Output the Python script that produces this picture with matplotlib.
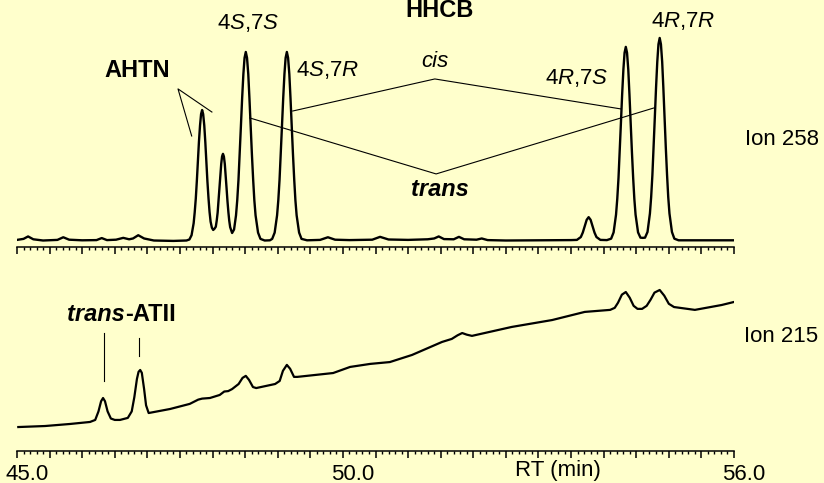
import matplotlib
matplotlib.use("Agg")
import matplotlib.pyplot as plt
from matplotlib.ticker import MultipleLocator, FuncFormatter
from matplotlib.transforms import ScaledTranslation

plt.rcParams["font.family"] = ["Liberation Sans", "DejaVu Sans"]
plt.rcParams["mathtext.fontset"] = "custom"
plt.rcParams["mathtext.rm"] = "Liberation Sans"
plt.rcParams["mathtext.it"] = "Liberation Sans:italic"
plt.rcParams["mathtext.bf"] = "Liberation Sans:bold"

BG = "#FFFFCC"

# ion 258 trace: retention time (min) and relative intensity
rt_258 = [45.00, 45.10, 45.17, 45.25, 45.40, 45.62, 45.71, 45.80, 46.00, 46.22,
          46.30, 46.38, 46.52, 46.63, 46.72, 46.78, 46.86, 46.95, 47.10, 47.40,
          47.60,
          # AHTN
          47.645, 47.678, 47.71, 47.726, 47.743, 47.759, 47.775, 47.791, 47.808, 47.824,
          47.84, 47.856, 47.873, 47.889, 47.905, 47.921, 47.938, 47.954, 47.97, 47.99,
          48.01, 48.03, 48.05, 48.064, 48.078, 48.091, 48.105, 48.119, 48.133, 48.146,
          48.16, 48.174, 48.188, 48.201, 48.215, 48.229, 48.243, 48.256, 48.27, 48.30,
          # HHCB 4S,7S
          48.33, 48.36, 48.379, 48.398, 48.416, 48.435, 48.454, 48.473, 48.491,
          48.51, 48.529, 48.548, 48.566, 48.585, 48.604, 48.623, 48.641, 48.66, 48.698,
          48.735, 48.80, 48.88,
          # HHCB 4S,7R
          48.915, 48.953, 48.99, 49.009, 49.028, 49.046, 49.065, 49.084, 49.103, 49.121,
          49.14, 49.159, 49.178, 49.196, 49.215, 49.234, 49.253, 49.271, 49.29, 49.328,
          49.365, 49.45,
          49.65, 49.77, 49.88, 50.10, 50.45, 50.57, 50.70, 51.00, 51.30, 51.40,
          51.47, 51.55, 51.70, 51.78, 51.86, 52.05, 52.13, 52.22, 52.50, 53.00,
          53.50, 53.59, 53.65, 53.68, 53.71, 53.74, 53.77, 53.80, 53.83, 53.86,
          53.89, 53.95, 54.05,
          # HHCB 4R,7S
          54.115, 54.153, 54.19, 54.209, 54.228, 54.246, 54.265, 54.284, 54.303, 54.321,
          54.34, 54.359, 54.378, 54.396, 54.415, 54.434, 54.453, 54.471, 54.49, 54.528,
          54.565, 54.60,
          # HHCB 4R,7R
          54.635, 54.673, 54.71, 54.729, 54.748, 54.766, 54.785, 54.804, 54.823, 54.841,
          54.86, 54.879, 54.898, 54.916, 54.935, 54.954, 54.973, 54.991, 55.01, 55.048,
          55.085, 55.15, 55.50, 56.00]
int_258 = [0.5, 1.0, 2.2, 0.8, 0.2, 0.5, 1.8, 0.6, 0.3, 0.4,
           1.4, 0.4, 0.6, 1.5, 0.8, 1.2, 2.8, 1.2, 0.2, 0.0,
           0.2,
           0.7, 2.8, 8.7, 14.0, 20.9, 29.5, 39.1, 48.7, 56.9, 62.5,
           64.5, 62.5, 56.9, 48.7, 39.1, 29.5, 21.0, 14.3, 9.5, 6.5,
           5.4, 6.0, 7.0, 10.0, 13.9, 19.6, 26.0, 32.4, 37.9, 41.6,
           42.9, 41.6, 37.9, 32.4, 26.0, 19.6, 14.2, 10.0, 6.8, 3.9,
           5.6, 12.6, 20.1, 30.2, 42.6, 56.5, 70.3, 82.2, 90.2,
           93.1, 90.2, 82.2, 70.3, 56.5, 42.6, 30.2, 20.1, 12.6, 4.1,
           1.0, 0.2, 0.3,
           1.0, 4.1, 12.6, 20.1, 30.2, 42.6, 56.5, 70.3, 82.2, 90.2,
           93.1, 90.2, 82.2, 70.3, 56.5, 42.6, 30.2, 20.1, 12.6, 4.1,
           1.0, 0.3,
           0.5, 1.8, 0.6, 0.4, 0.6, 2.0, 0.7, 0.5, 0.8, 1.2,
           2.2, 0.9, 0.8, 2.0, 0.8, 0.6, 1.2, 0.4, 0.2, 0.3,
           0.4, 0.5, 1.9, 4.1, 7.3, 10.4, 11.7, 10.4, 7.3, 4.1,
           1.9, 0.5, 0.4,
           1.1, 4.2, 12.9, 20.7, 31.0, 43.8, 58.0, 72.2, 84.4, 92.7,
           95.6, 92.7, 84.4, 72.2, 58.0, 43.8, 31.0, 20.7, 12.9, 4.2,
           1.6, 1.5,
           1.6, 4.4, 13.5, 21.6, 32.5, 45.8, 60.7, 75.5, 88.3, 96.9,
           100.0, 96.9, 88.3, 75.5, 60.7, 45.8, 32.5, 21.6, 13.5, 4.4,
           1.1, 0.3, 0.3, 0.3]

# ion 215 trace
rt_215 = [45.02, 45.43, 45.81, 46.12, 46.20, 46.25, 46.29, 46.32, 46.35, 46.39,
          46.44, 46.50, 46.58, 46.70, 46.76, 46.80, 46.84, 46.865, 46.89, 46.915,
          46.95, 46.98, 47.02, 47.35, 47.65, 47.78, 47.84, 47.96, 48.11, 48.18,
          48.24, 48.30, 48.40, 48.46, 48.51, 48.56, 48.62, 48.67, 48.96, 49.03,
          49.08, 49.14, 49.19, 49.25, 49.30, 49.85, 50.11, 50.42, 50.72, 51.06,
          51.52, 51.67, 51.76, 51.83, 51.90, 51.98, 52.59, 53.21, 53.71, 54.10,
          54.17, 54.22, 54.28, 54.34, 54.40, 54.46, 54.52, 54.59, 54.66, 54.72,
          54.78, 54.86, 54.93, 55.00, 55.08, 55.40, 55.81, 56.00]
int_215 = [11.3, 11.8, 12.8, 13.8, 14.8, 19.0, 24.0, 25.6, 24.0, 19.0,
           15.5, 14.8, 14.8, 15.8, 19.0, 26.0, 35.0, 38.5, 39.4, 38.0,
           30.0, 22.0, 18.2, 20.2, 22.7, 24.8, 25.3, 25.6, 27.1, 28.8,
           29.0, 30.0, 32.5, 35.5, 36.5, 34.5, 31.0, 30.5, 32.5, 34.0,
           39.0, 41.9, 40.0, 36.0, 36.0, 37.9, 40.9, 42.4, 43.3, 46.8,
           53.2, 54.7, 56.5, 57.6, 56.8, 56.2, 60.6, 64.0, 68.0, 69.0,
           70.0, 72.5, 76.5, 77.8, 75.0, 71.0, 69.5, 69.5, 71.0, 74.0,
           77.5, 78.8, 76.0, 72.0, 70.4, 69.0, 71.4, 72.9]

tick_rt = [45.0, 50.0, 56.0]
tick_labels = ["45.0", "50.0", "56.0"]


def style_axis(axes, show_labels):
    """only the bottom time axis with ticks pointing down"""
    axes.set_facecolor("none")
    for side in ["left", "right", "top"]:
        axes.spines[side].set_visible(False)
    axes.spines["bottom"].set_linewidth(1.1)
    axes.set_yticks([])
    axes.set_xlim(45.0, 56.0)
    axes.xaxis.set_major_locator(MultipleLocator(0.5))
    axes.xaxis.set_minor_locator(MultipleLocator(0.1))
    axes.tick_params(axis="x", which="major", direction="out", length=5, width=1.1)
    axes.tick_params(axis="x", which="minor", direction="out", length=2.5, width=1.0)
    names = dict(zip([round(v, 1) for v in tick_rt], tick_labels))
    if show_labels:
        axes.xaxis.set_major_formatter(
            FuncFormatter(lambda v, _: names.get(round(v, 1), "")))
        axes.tick_params(axis="x", labelsize=16, pad=4)
        shift = ScaledTranslation(0.10, 0, axes.figure.dpi_scale_trans)
        for lab in axes.get_xticklabels():
            lab.set_transform(lab.get_transform() + shift)
    else:
        axes.tick_params(axis="x", labelbottom=False)


fig = plt.figure(figsize=(8.24, 4.83), dpi=100, facecolor=BG)
ax_top = fig.add_axes([17 / 824, 236 / 483, 717 / 824, 247 / 483])
ax_bot = fig.add_axes([17 / 824, 32 / 483, 717 / 824, 200 / 483])

ax_top.plot(rt_258, int_258, color="black", lw=1.7)
ax_top.set_ylim(-3.0, 118.7)
style_axis(ax_top, False)

ax_bot.plot(rt_215, int_215, color="black", lw=1.6)
ax_bot.set_ylim(-0.5, 98.0)
style_axis(ax_bot, True)

# annotations on ion 258
line_kw = dict(color="black", lw=0.8)
ax_top.plot([47.68, 47.47, 47.99], [51.7, 74.9, 63.5], **line_kw)
ax_top.plot([49.23, 51.41, 54.27], [64.0, 79.8, 65.0], **line_kw)
ax_top.plot([48.57, 51.43, 54.77], [60.6, 33.0, 65.5], **line_kw)

txt = dict(ha="center", va="center", fontsize=16)
bold = dict(ha="center", va="center", fontsize=17, fontweight="bold")
ax_top.text(46.84, 84.2, "AHTN", **bold)
ax_top.text(51.49, 113.3, "HHCB", **bold)
ax_top.text(48.54, 107.4, r"4$\it{S}$,7$\it{S}$", **txt)
ax_top.text(49.76, 84.2, r"4$\it{S}$,7$\it{R}$", **txt)
ax_top.text(51.41, 88.2, "cis", style="italic", **txt)
ax_top.text(53.59, 80.3, r"4$\it{R}$,7$\it{S}$", **txt)
ax_top.text(55.22, 108.4, r"4$\it{R}$,7$\it{R}$", **txt)
ax_top.text(51.49, 25.1, "trans", style="italic", **bold)
ax_top.text(56.74, 50.2, "Ion 258", **txt)

# annotations on ion 215
ax_bot.plot([46.33, 46.33], [34.0, 57.6], **line_kw)
ax_bot.plot([46.87, 46.87], [46.3, 55.2], **line_kw)
ax_bot.text(46.66, 66.5, "trans", style="italic", fontweight="bold",
            ha="right", va="center", fontsize=17)
ax_bot.text(46.66, 66.5, "-ATII", fontweight="bold",
            ha="left", va="center", fontsize=17)
ax_bot.text(56.72, 55.7, "Ion 215", **txt)
ax_bot.text(53.30, -10.3, "RT (min)", **txt)

fig.savefig("out.png", dpi=100, facecolor=BG)
